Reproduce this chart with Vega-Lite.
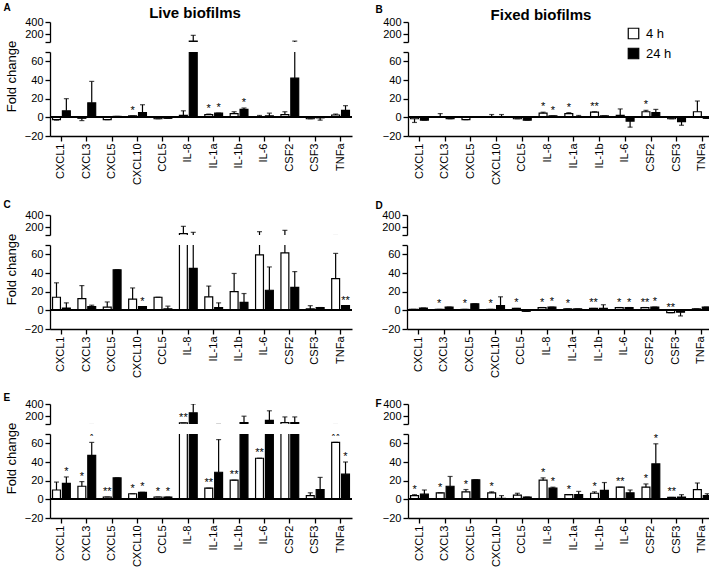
{
"$schema": "https://vega.github.io/schema/vega-lite/v6.json",
"padding": {"left": 3, "top": 2, "right": 0, "bottom": 0},
"datasets": {"d": [
{"p":"A","g":"CXCL1","t":"4 h","v":-2.5,"e":-3},
{"p":"A","g":"CXCL1","t":"24 h","v":7,"e":20},
{"p":"A","g":"CXCL3","t":"4 h","v":-1,"e":-3.5},
{"p":"A","g":"CXCL3","t":"24 h","v":15.5,"e":38.5},
{"p":"A","g":"CXCL5","t":"4 h","v":-2.5,"e":-2.5},
{"p":"A","g":"CXCL5","t":"24 h","v":1,"e":1},
{"p":"A","g":"CXCL10","t":"4 h","v":1.5,"e":1.5,"s":"*"},
{"p":"A","g":"CXCL10","t":"24 h","v":5,"e":13.5},
{"p":"A","g":"CCL5","t":"4 h","v":-1.5,"e":-1.5},
{"p":"A","g":"CCL5","t":"24 h","v":-1,"e":-1},
{"p":"A","g":"IL-8","t":"4 h","v":2,"e":7},
{"p":"A","g":"IL-8","t":"24 h","v":85,"e":180},
{"p":"A","g":"IL-1a","t":"4 h","v":3,"e":3.5,"s":"*"},
{"p":"A","g":"IL-1a","t":"24 h","v":4.5,"e":4.5,"s":"*"},
{"p":"A","g":"IL-1b","t":"4 h","v":4,"e":6},
{"p":"A","g":"IL-1b","t":"24 h","v":8.5,"e":10,"s":"*"},
{"p":"A","g":"IL-6","t":"4 h","v":0.5,"e":2},
{"p":"A","g":"IL-6","t":"24 h","v":1.5,"e":4.5},
{"p":"A","g":"CSF2","t":"4 h","v":3,"e":6},
{"p":"A","g":"CSF2","t":"24 h","v":42,"e":85},
{"p":"A","g":"CSF3","t":"4 h","v":-1.5,"e":-1.5},
{"p":"A","g":"CSF3","t":"24 h","v":-0.5,"e":-3},
{"p":"A","g":"TNFa","t":"4 h","v":2.5,"e":3.5},
{"p":"A","g":"TNFa","t":"24 h","v":7.5,"e":12.5},
{"p":"B","g":"CXCL1","t":"4 h","v":-1.5,"e":-5.5},
{"p":"B","g":"CXCL1","t":"24 h","v":-3,"e":-3},
{"p":"B","g":"CXCL3","t":"4 h","v":0.5,"e":4},
{"p":"B","g":"CXCL3","t":"24 h","v":-1.5,"e":-1.5},
{"p":"B","g":"CXCL5","t":"4 h","v":-2.5,"e":-2.5},
{"p":"B","g":"CXCL5","t":"24 h","v":0,"e":0},
{"p":"B","g":"CXCL10","t":"4 h","v":0.5,"e":3},
{"p":"B","g":"CXCL10","t":"24 h","v":0.5,"e":3},
{"p":"B","g":"CCL5","t":"4 h","v":-1.5,"e":-1.5},
{"p":"B","g":"CCL5","t":"24 h","v":-3,"e":-3},
{"p":"B","g":"IL-8","t":"4 h","v":4.5,"e":5.5,"s":"*"},
{"p":"B","g":"IL-8","t":"24 h","v":1.5,"e":1.5,"s":"*"},
{"p":"B","g":"IL-1a","t":"4 h","v":4,"e":5,"s":"*"},
{"p":"B","g":"IL-1a","t":"24 h","v":0.5,"e":2},
{"p":"B","g":"IL-1b","t":"4 h","v":5.5,"e":6,"s":"**"},
{"p":"B","g":"IL-1b","t":"24 h","v":1.5,"e":1.5},
{"p":"B","g":"IL-6","t":"4 h","v":2,"e":9},
{"p":"B","g":"IL-6","t":"24 h","v":-4,"e":-10.5},
{"p":"B","g":"CSF2","t":"4 h","v":6,"e":7.5,"s":"*"},
{"p":"B","g":"CSF2","t":"24 h","v":5,"e":8.5},
{"p":"B","g":"CSF3","t":"4 h","v":-1.5,"e":-1.5},
{"p":"B","g":"CSF3","t":"24 h","v":-4.5,"e":-8.5},
{"p":"B","g":"TNFa","t":"4 h","v":6,"e":17.5},
{"p":"B","g":"TNFa","t":"24 h","v":-1,"e":-1},
{"p":"C","g":"CXCL1","t":"4 h","v":14,"e":29.5},
{"p":"C","g":"CXCL1","t":"24 h","v":2.5,"e":8},
{"p":"C","g":"CXCL3","t":"4 h","v":12.5,"e":26.5},
{"p":"C","g":"CXCL3","t":"24 h","v":4,"e":5.5},
{"p":"C","g":"CXCL5","t":"4 h","v":3.5,"e":9},
{"p":"C","g":"CXCL5","t":"24 h","v":43.5,"e":43.5},
{"p":"C","g":"CXCL10","t":"4 h","v":12,"e":24},
{"p":"C","g":"CXCL10","t":"24 h","v":4,"e":4,"s":"*"},
{"p":"C","g":"CCL5","t":"4 h","v":14,"e":14},
{"p":"C","g":"CCL5","t":"24 h","v":1.5,"e":4.5},
{"p":"C","g":"IL-8","t":"4 h","v":92,"e":213},
{"p":"C","g":"IL-8","t":"24 h","v":45,"e":114},
{"p":"C","g":"IL-1a","t":"4 h","v":14.5,"e":26},
{"p":"C","g":"IL-1a","t":"24 h","v":3,"e":8},
{"p":"C","g":"IL-1b","t":"4 h","v":20,"e":39.5},
{"p":"C","g":"IL-1b","t":"24 h","v":8.5,"e":18},
{"p":"C","g":"IL-6","t":"4 h","v":59.5,"e":125},
{"p":"C","g":"IL-6","t":"24 h","v":21.5,"e":46.5},
{"p":"C","g":"CSF2","t":"4 h","v":61.5,"e":147},
{"p":"C","g":"CSF2","t":"24 h","v":24.5,"e":41.5},
{"p":"C","g":"CSF3","t":"4 h","v":1.5,"e":5},
{"p":"C","g":"CSF3","t":"24 h","v":3,"e":3},
{"p":"C","g":"TNFa","t":"4 h","v":34,"e":61},
{"p":"C","g":"TNFa","t":"24 h","v":5,"e":5,"s":"**"},
{"p":"D","g":"CXCL1","t":"4 h","v":1,"e":1},
{"p":"D","g":"CXCL1","t":"24 h","v":2.5,"e":2.5},
{"p":"D","g":"CXCL3","t":"4 h","v":1,"e":1,"s":"*"},
{"p":"D","g":"CXCL3","t":"24 h","v":3.5,"e":3.5},
{"p":"D","g":"CXCL5","t":"4 h","v":1,"e":1,"s":"*"},
{"p":"D","g":"CXCL5","t":"24 h","v":7,"e":7},
{"p":"D","g":"CXCL10","t":"4 h","v":1,"e":1,"s":"*"},
{"p":"D","g":"CXCL10","t":"24 h","v":5,"e":14.5},
{"p":"D","g":"CCL5","t":"4 h","v":2,"e":2,"s":"*"},
{"p":"D","g":"CCL5","t":"24 h","v":-1,"e":-1},
{"p":"D","g":"IL-8","t":"4 h","v":3,"e":3,"s":"*"},
{"p":"D","g":"IL-8","t":"24 h","v":3.5,"e":3.5,"s":"*"},
{"p":"D","g":"IL-1a","t":"4 h","v":1.5,"e":1.5,"s":"*"},
{"p":"D","g":"IL-1a","t":"24 h","v":1.5,"e":1.5},
{"p":"D","g":"IL-1b","t":"4 h","v":2,"e":2,"s":"**"},
{"p":"D","g":"IL-1b","t":"24 h","v":2,"e":6},
{"p":"D","g":"IL-6","t":"4 h","v":3,"e":3,"s":"*"},
{"p":"D","g":"IL-6","t":"24 h","v":3,"e":3,"s":"*"},
{"p":"D","g":"CSF2","t":"4 h","v":3,"e":3,"s":"**"},
{"p":"D","g":"CSF2","t":"24 h","v":3.5,"e":3.5,"s":"*"},
{"p":"D","g":"CSF3","t":"4 h","v":-2.5,"e":-2.5,"s":"**"},
{"p":"D","g":"CSF3","t":"24 h","v":-2,"e":-6},
{"p":"D","g":"TNFa","t":"4 h","v":1.5,"e":1.5},
{"p":"D","g":"TNFa","t":"24 h","v":3.5,"e":3.5},
{"p":"E","g":"CXCL1","t":"4 h","v":10,"e":18.5},
{"p":"E","g":"CXCL1","t":"24 h","v":17,"e":24,"s":"*"},
{"p":"E","g":"CXCL3","t":"4 h","v":14,"e":19,"s":"*"},
{"p":"E","g":"CXCL3","t":"24 h","v":47,"e":61,"s":"*"},
{"p":"E","g":"CXCL5","t":"4 h","v":2.5,"e":2.5,"s":"**"},
{"p":"E","g":"CXCL5","t":"24 h","v":23,"e":23},
{"p":"E","g":"CXCL10","t":"4 h","v":6,"e":6,"s":"*"},
{"p":"E","g":"CXCL10","t":"24 h","v":7.5,"e":7.5,"s":"*"},
{"p":"E","g":"CCL5","t":"4 h","v":2.5,"e":2.5,"s":"*"},
{"p":"E","g":"CCL5","t":"24 h","v":2.5,"e":2.5,"s":"*"},
{"p":"E","g":"IL-8","t":"4 h","v":87,"e":87,"s":"**"},
{"p":"E","g":"IL-8","t":"24 h","v":255,"e":400},
{"p":"E","g":"IL-1a","t":"4 h","v":12,"e":12,"s":"**"},
{"p":"E","g":"IL-1a","t":"24 h","v":29,"e":64},
{"p":"E","g":"IL-1b","t":"4 h","v":20.5,"e":20.5,"s":"**"},
{"p":"E","g":"IL-1b","t":"24 h","v":92,"e":199},
{"p":"E","g":"IL-6","t":"4 h","v":44,"e":44,"s":"**"},
{"p":"E","g":"IL-6","t":"24 h","v":131,"e":288},
{"p":"E","g":"CSF2","t":"4 h","v":92,"e":187},
{"p":"E","g":"CSF2","t":"24 h","v":92,"e":187},
{"p":"E","g":"CSF3","t":"4 h","v":4,"e":7},
{"p":"E","g":"CSF3","t":"24 h","v":10.5,"e":23.5},
{"p":"E","g":"TNFa","t":"4 h","v":61,"e":61,"s":"**"},
{"p":"E","g":"TNFa","t":"24 h","v":27,"e":40,"s":"*"},
{"p":"F","g":"CXCL1","t":"4 h","v":4,"e":5,"s":"*"},
{"p":"F","g":"CXCL1","t":"24 h","v":5.5,"e":10},
{"p":"F","g":"CXCL3","t":"4 h","v":7,"e":7,"s":"*"},
{"p":"F","g":"CXCL3","t":"24 h","v":14,"e":24.5},
{"p":"F","g":"CXCL5","t":"4 h","v":8,"e":10.5,"s":"*"},
{"p":"F","g":"CXCL5","t":"24 h","v":21,"e":21},
{"p":"F","g":"CXCL10","t":"4 h","v":7,"e":8,"s":"*"},
{"p":"F","g":"CXCL10","t":"24 h","v":1,"e":4},
{"p":"F","g":"CCL5","t":"4 h","v":4.5,"e":6.5},
{"p":"F","g":"CCL5","t":"24 h","v":2.5,"e":2.5},
{"p":"F","g":"IL-8","t":"4 h","v":20.5,"e":23,"s":"*"},
{"p":"F","g":"IL-8","t":"24 h","v":12,"e":13,"s":"*"},
{"p":"F","g":"IL-1a","t":"4 h","v":5,"e":5,"s":"*"},
{"p":"F","g":"IL-1a","t":"24 h","v":5,"e":8.5},
{"p":"F","g":"IL-1b","t":"4 h","v":6.5,"e":8,"s":"*"},
{"p":"F","g":"IL-1b","t":"24 h","v":9.5,"e":18},
{"p":"F","g":"IL-6","t":"4 h","v":13,"e":13,"s":"**"},
{"p":"F","g":"IL-6","t":"24 h","v":7,"e":10},
{"p":"F","g":"CSF2","t":"4 h","v":13,"e":16.5,"s":"*"},
{"p":"F","g":"CSF2","t":"24 h","v":38,"e":59.5,"s":"*"},
{"p":"F","g":"CSF3","t":"4 h","v":2,"e":2,"s":"**"},
{"p":"F","g":"CSF3","t":"24 h","v":2.5,"e":5},
{"p":"F","g":"TNFa","t":"4 h","v":10.5,"e":17.5},
{"p":"F","g":"TNFa","t":"24 h","v":4,"e":6}
]},
"data": {"name": "d"},
"spacing": 14,
"vconcat": [
{"spacing": 22, "hconcat": [
 {"spacing": 10, "bounds": "flush", "vconcat": [
  {"width": 302, "height": 20,
   "title": {"text": "Live biofilms", "fontSize": 15, "fontWeight": "bold", "anchor": "middle", "frame": "group", "dx": -6, "offset": -19},
   "transform": [{"filter": "datum.p=='A'"}],
   "layer": [
    {"mark": {"type": "bar", "clip": true}, "encoding": {
      "x": {"field": "g", "type": "nominal", "sort": null, "title": null, "scale": {"paddingInner": 0.3, "paddingOuter": 0.1}, "axis": null},
      "xOffset": {"field": "t", "type": "nominal", "sort": null, "scale": {"paddingInner": 0.2}},
      "y": {"field": "v", "type": "quantitative", "scale": {"domain": [70, 400], "nice": false, "zero": false}, "axis": {"values": [70, 200, 400], "tickCount": 10, "labelFlush": false, "labelOverlap": false, "labelExpr": "datum.value==70?'':datum.label", "title": "A", "titleAngle": 0, "titleX": -47, "titleY": -12, "titleFontWeight": "bold", "titleFontSize": 10, "titleAlign": "left", "titleBaseline": "alphabetic"}},
      "fill": {"field": "t", "type": "nominal", "title": null, "scale": {"domain": ["4 h", "24 h"], "range": ["white", "black"]}}}},
    {"mark": {"type": "rule", "clip": true}, "encoding": {
      "x": {"field": "g", "type": "nominal", "sort": null, "title": null, "scale": {"paddingInner": 0.3, "paddingOuter": 0.1}, "axis": null},
      "xOffset": {"field": "t", "type": "nominal", "sort": null, "scale": {"paddingInner": 0.2}},
      "y": {"field": "v", "type": "quantitative", "scale": {"domain": [70, 400], "nice": false, "zero": false}}, "y2": {"field": "e"}}},
    {"mark": {"type": "tick", "clip": true}, "encoding": {
      "x": {"field": "g", "type": "nominal", "sort": null, "title": null, "scale": {"paddingInner": 0.3, "paddingOuter": 0.1}, "axis": null},
      "xOffset": {"field": "t", "type": "nominal", "sort": null, "scale": {"paddingInner": 0.2}},
      "y": {"field": "e", "type": "quantitative", "scale": {"domain": [70, 400], "nice": false, "zero": false}}}},
    {"transform": [{"filter": "datum.s && datum.e > 70"}], "mark": {"type": "text", "clip": true}, "encoding": {
      "x": {"field": "g", "type": "nominal", "sort": null, "title": null, "scale": {"paddingInner": 0.3, "paddingOuter": 0.1}, "axis": null},
      "xOffset": {"field": "t", "type": "nominal", "sort": null, "scale": {"paddingInner": 0.2}},
      "y": {"field": "e", "type": "quantitative", "scale": {"domain": [70, 400], "nice": false, "zero": false}}, "text": {"field": "s"}}}
   ]},
  {"width": 302, "height": 84,
   "transform": [{"filter": "datum.p=='A'"}],
   "layer": [
    {"mark": {"type": "bar", "clip": true}, "encoding": {
      "x": {"field": "g", "type": "nominal", "sort": null, "title": null, "scale": {"paddingInner": 0.3, "paddingOuter": 0.1}, "axis": {"labelAngle": -90}},
      "xOffset": {"field": "t", "type": "nominal", "sort": null, "scale": {"paddingInner": 0.2}},
      "y": {"field": "v", "type": "quantitative", "scale": {"domain": [-20, 70], "nice": false, "zero": false}, "axis": {"values": [-20, 0, 20, 40, 60, 70], "tickCount": 10, "labelFlush": false, "labelOverlap": false, "labelExpr": "datum.value==70?'':datum.label", "title": "Fold change", "titleFontSize": 13, "titleY": 24, "titlePadding": 6}},
      "fill": {"field": "t", "type": "nominal", "title": null, "scale": {"domain": ["4 h", "24 h"], "range": ["white", "black"]}}}},
    {"mark": {"type": "rule", "strokeWidth": 1.3}, "encoding": {"y": {"datum": 0, "type": "quantitative", "scale": {"domain": [-20, 70], "nice": false, "zero": false}}}},
    {"mark": {"type": "rule", "clip": true}, "encoding": {
      "x": {"field": "g", "type": "nominal", "sort": null, "title": null, "scale": {"paddingInner": 0.3, "paddingOuter": 0.1}, "axis": {"labelAngle": -90}},
      "xOffset": {"field": "t", "type": "nominal", "sort": null, "scale": {"paddingInner": 0.2}},
      "y": {"field": "v", "type": "quantitative", "scale": {"domain": [-20, 70], "nice": false, "zero": false}}, "y2": {"field": "e"}}},
    {"mark": {"type": "tick", "clip": true}, "encoding": {
      "x": {"field": "g", "type": "nominal", "sort": null, "title": null, "scale": {"paddingInner": 0.3, "paddingOuter": 0.1}, "axis": {"labelAngle": -90}},
      "xOffset": {"field": "t", "type": "nominal", "sort": null, "scale": {"paddingInner": 0.2}},
      "y": {"field": "e", "type": "quantitative", "scale": {"domain": [-20, 70], "nice": false, "zero": false}}}},
    {"transform": [{"filter": "datum.s && datum.e <= 70"}], "mark": {"type": "text", "clip": true}, "encoding": {
      "x": {"field": "g", "type": "nominal", "sort": null, "title": null, "scale": {"paddingInner": 0.3, "paddingOuter": 0.1}, "axis": {"labelAngle": -90}},
      "xOffset": {"field": "t", "type": "nominal", "sort": null, "scale": {"paddingInner": 0.2}},
      "y": {"field": "e", "type": "quantitative", "scale": {"domain": [-20, 70], "nice": false, "zero": false}}, "text": {"field": "s"}}}
   ]}
 ]},
 {"spacing": 10, "bounds": "flush", "vconcat": [
  {"width": 306, "height": 20,
   "title": {"text": "Fixed biofilms", "fontSize": 15, "fontWeight": "bold", "anchor": "middle", "frame": "group", "dx": -20, "offset": -19},
   "transform": [{"filter": "datum.p=='B'"}],
   "layer": [
    {"mark": {"type": "bar", "clip": true}, "encoding": {
      "x": {"field": "g", "type": "nominal", "sort": null, "title": null, "scale": {"paddingInner": 0.3, "paddingOuter": 0.1}, "axis": null},
      "xOffset": {"field": "t", "type": "nominal", "sort": null, "scale": {"paddingInner": 0.2}},
      "y": {"field": "v", "type": "quantitative", "scale": {"domain": [70, 400], "nice": false, "zero": false}, "axis": {"values": [70, 200, 400], "tickCount": 10, "labelFlush": false, "labelOverlap": false, "labelExpr": "datum.value==70?'':datum.label", "title": "B", "titleAngle": 0, "titleX": -33, "titleY": -10, "titleFontWeight": "bold", "titleFontSize": 10, "titleAlign": "left", "titleBaseline": "alphabetic"}},
      "fill": {"field": "t", "type": "nominal", "title": null, "scale": {"domain": ["4 h", "24 h"], "range": ["white", "black"]}}}},
    {"mark": {"type": "rule", "clip": true}, "encoding": {
      "x": {"field": "g", "type": "nominal", "sort": null, "title": null, "scale": {"paddingInner": 0.3, "paddingOuter": 0.1}, "axis": null},
      "xOffset": {"field": "t", "type": "nominal", "sort": null, "scale": {"paddingInner": 0.2}},
      "y": {"field": "v", "type": "quantitative", "scale": {"domain": [70, 400], "nice": false, "zero": false}}, "y2": {"field": "e"}}},
    {"mark": {"type": "tick", "clip": true}, "encoding": {
      "x": {"field": "g", "type": "nominal", "sort": null, "title": null, "scale": {"paddingInner": 0.3, "paddingOuter": 0.1}, "axis": null},
      "xOffset": {"field": "t", "type": "nominal", "sort": null, "scale": {"paddingInner": 0.2}},
      "y": {"field": "e", "type": "quantitative", "scale": {"domain": [70, 400], "nice": false, "zero": false}}}},
    {"transform": [{"filter": "datum.s && datum.e > 70"}], "mark": {"type": "text", "clip": true}, "encoding": {
      "x": {"field": "g", "type": "nominal", "sort": null, "title": null, "scale": {"paddingInner": 0.3, "paddingOuter": 0.1}, "axis": null},
      "xOffset": {"field": "t", "type": "nominal", "sort": null, "scale": {"paddingInner": 0.2}},
      "y": {"field": "e", "type": "quantitative", "scale": {"domain": [70, 400], "nice": false, "zero": false}}, "text": {"field": "s"}}}
   ]},
  {"width": 306, "height": 84,
   "transform": [{"filter": "datum.p=='B'"}],
   "layer": [
    {"mark": {"type": "bar", "clip": true}, "encoding": {
      "x": {"field": "g", "type": "nominal", "sort": null, "title": null, "scale": {"paddingInner": 0.3, "paddingOuter": 0.1}, "axis": {"labelAngle": -90}},
      "xOffset": {"field": "t", "type": "nominal", "sort": null, "scale": {"paddingInner": 0.2}},
      "y": {"field": "v", "type": "quantitative", "scale": {"domain": [-20, 70], "nice": false, "zero": false}, "axis": {"values": [-20, 0, 20, 40, 60, 70], "tickCount": 10, "labelFlush": false, "labelOverlap": false, "labelExpr": "datum.value==70?'':datum.label", "title": null}},
      "fill": {"field": "t", "type": "nominal", "title": null, "scale": {"domain": ["4 h", "24 h"], "range": ["white", "black"]}}}},
    {"mark": {"type": "rule", "strokeWidth": 1.3}, "encoding": {"y": {"datum": 0, "type": "quantitative", "scale": {"domain": [-20, 70], "nice": false, "zero": false}}}},
    {"mark": {"type": "rule", "clip": true}, "encoding": {
      "x": {"field": "g", "type": "nominal", "sort": null, "title": null, "scale": {"paddingInner": 0.3, "paddingOuter": 0.1}, "axis": {"labelAngle": -90}},
      "xOffset": {"field": "t", "type": "nominal", "sort": null, "scale": {"paddingInner": 0.2}},
      "y": {"field": "v", "type": "quantitative", "scale": {"domain": [-20, 70], "nice": false, "zero": false}}, "y2": {"field": "e"}}},
    {"mark": {"type": "tick", "clip": true}, "encoding": {
      "x": {"field": "g", "type": "nominal", "sort": null, "title": null, "scale": {"paddingInner": 0.3, "paddingOuter": 0.1}, "axis": {"labelAngle": -90}},
      "xOffset": {"field": "t", "type": "nominal", "sort": null, "scale": {"paddingInner": 0.2}},
      "y": {"field": "e", "type": "quantitative", "scale": {"domain": [-20, 70], "nice": false, "zero": false}}}},
    {"transform": [{"filter": "datum.s && datum.e <= 70"}], "mark": {"type": "text", "clip": true}, "encoding": {
      "x": {"field": "g", "type": "nominal", "sort": null, "title": null, "scale": {"paddingInner": 0.3, "paddingOuter": 0.1}, "axis": {"labelAngle": -90}},
      "xOffset": {"field": "t", "type": "nominal", "sort": null, "scale": {"paddingInner": 0.2}},
      "y": {"field": "e", "type": "quantitative", "scale": {"domain": [-20, 70], "nice": false, "zero": false}}, "text": {"field": "s"}}}
   ]}
 ]}
]},
{"spacing": 22, "hconcat": [
 {"spacing": 10, "bounds": "flush", "vconcat": [
  {"width": 302, "height": 20,
   "transform": [{"filter": "datum.p=='C'"}],
   "layer": [
    {"mark": {"type": "bar", "clip": true}, "encoding": {
      "x": {"field": "g", "type": "nominal", "sort": null, "title": null, "scale": {"paddingInner": 0.3, "paddingOuter": 0.1}, "axis": null},
      "xOffset": {"field": "t", "type": "nominal", "sort": null, "scale": {"paddingInner": 0.2}},
      "y": {"field": "v", "type": "quantitative", "scale": {"domain": [70, 400], "nice": false, "zero": false}, "axis": {"values": [70, 200, 400], "tickCount": 10, "labelFlush": false, "labelOverlap": false, "labelExpr": "datum.value==70?'':datum.label", "title": "C", "titleAngle": 0, "titleX": -47, "titleY": -8, "titleFontWeight": "bold", "titleFontSize": 10, "titleAlign": "left", "titleBaseline": "alphabetic"}},
      "fill": {"field": "t", "type": "nominal", "title": null, "scale": {"domain": ["4 h", "24 h"], "range": ["white", "black"]}}}},
    {"mark": {"type": "rule", "clip": true}, "encoding": {
      "x": {"field": "g", "type": "nominal", "sort": null, "title": null, "scale": {"paddingInner": 0.3, "paddingOuter": 0.1}, "axis": null},
      "xOffset": {"field": "t", "type": "nominal", "sort": null, "scale": {"paddingInner": 0.2}},
      "y": {"field": "v", "type": "quantitative", "scale": {"domain": [70, 400], "nice": false, "zero": false}}, "y2": {"field": "e"}}},
    {"mark": {"type": "tick", "clip": true}, "encoding": {
      "x": {"field": "g", "type": "nominal", "sort": null, "title": null, "scale": {"paddingInner": 0.3, "paddingOuter": 0.1}, "axis": null},
      "xOffset": {"field": "t", "type": "nominal", "sort": null, "scale": {"paddingInner": 0.2}},
      "y": {"field": "e", "type": "quantitative", "scale": {"domain": [70, 400], "nice": false, "zero": false}}}},
    {"transform": [{"filter": "datum.s && datum.e > 70"}], "mark": {"type": "text", "clip": true}, "encoding": {
      "x": {"field": "g", "type": "nominal", "sort": null, "title": null, "scale": {"paddingInner": 0.3, "paddingOuter": 0.1}, "axis": null},
      "xOffset": {"field": "t", "type": "nominal", "sort": null, "scale": {"paddingInner": 0.2}},
      "y": {"field": "e", "type": "quantitative", "scale": {"domain": [70, 400], "nice": false, "zero": false}}, "text": {"field": "s"}}}
   ]},
  {"width": 302, "height": 84,
   "transform": [{"filter": "datum.p=='C'"}],
   "layer": [
    {"mark": {"type": "bar", "clip": true}, "encoding": {
      "x": {"field": "g", "type": "nominal", "sort": null, "title": null, "scale": {"paddingInner": 0.3, "paddingOuter": 0.1}, "axis": {"labelAngle": -90}},
      "xOffset": {"field": "t", "type": "nominal", "sort": null, "scale": {"paddingInner": 0.2}},
      "y": {"field": "v", "type": "quantitative", "scale": {"domain": [-20, 70], "nice": false, "zero": false}, "axis": {"values": [-20, 0, 20, 40, 60, 70], "tickCount": 10, "labelFlush": false, "labelOverlap": false, "labelExpr": "datum.value==70?'':datum.label", "title": "Fold change", "titleFontSize": 13, "titleY": 24, "titlePadding": 6}},
      "fill": {"field": "t", "type": "nominal", "title": null, "scale": {"domain": ["4 h", "24 h"], "range": ["white", "black"]}}}},
    {"mark": {"type": "rule", "strokeWidth": 1.3}, "encoding": {"y": {"datum": 0, "type": "quantitative", "scale": {"domain": [-20, 70], "nice": false, "zero": false}}}},
    {"mark": {"type": "rule", "clip": true}, "encoding": {
      "x": {"field": "g", "type": "nominal", "sort": null, "title": null, "scale": {"paddingInner": 0.3, "paddingOuter": 0.1}, "axis": {"labelAngle": -90}},
      "xOffset": {"field": "t", "type": "nominal", "sort": null, "scale": {"paddingInner": 0.2}},
      "y": {"field": "v", "type": "quantitative", "scale": {"domain": [-20, 70], "nice": false, "zero": false}}, "y2": {"field": "e"}}},
    {"mark": {"type": "tick", "clip": true}, "encoding": {
      "x": {"field": "g", "type": "nominal", "sort": null, "title": null, "scale": {"paddingInner": 0.3, "paddingOuter": 0.1}, "axis": {"labelAngle": -90}},
      "xOffset": {"field": "t", "type": "nominal", "sort": null, "scale": {"paddingInner": 0.2}},
      "y": {"field": "e", "type": "quantitative", "scale": {"domain": [-20, 70], "nice": false, "zero": false}}}},
    {"transform": [{"filter": "datum.s && datum.e <= 70"}], "mark": {"type": "text", "clip": true}, "encoding": {
      "x": {"field": "g", "type": "nominal", "sort": null, "title": null, "scale": {"paddingInner": 0.3, "paddingOuter": 0.1}, "axis": {"labelAngle": -90}},
      "xOffset": {"field": "t", "type": "nominal", "sort": null, "scale": {"paddingInner": 0.2}},
      "y": {"field": "e", "type": "quantitative", "scale": {"domain": [-20, 70], "nice": false, "zero": false}}, "text": {"field": "s"}}}
   ]}
 ]},
 {"spacing": 10, "bounds": "flush", "vconcat": [
  {"width": 306, "height": 20,
   "transform": [{"filter": "datum.p=='D'"}],
   "layer": [
    {"mark": {"type": "bar", "clip": true}, "encoding": {
      "x": {"field": "g", "type": "nominal", "sort": null, "title": null, "scale": {"paddingInner": 0.3, "paddingOuter": 0.1}, "axis": null},
      "xOffset": {"field": "t", "type": "nominal", "sort": null, "scale": {"paddingInner": 0.2}},
      "y": {"field": "v", "type": "quantitative", "scale": {"domain": [70, 400], "nice": false, "zero": false}, "axis": {"values": [70, 200, 400], "tickCount": 10, "labelFlush": false, "labelOverlap": false, "labelExpr": "datum.value==70?'':datum.label", "title": "D", "titleAngle": 0, "titleX": -32, "titleY": -7, "titleFontWeight": "bold", "titleFontSize": 10, "titleAlign": "left", "titleBaseline": "alphabetic"}},
      "fill": {"field": "t", "type": "nominal", "title": null, "scale": {"domain": ["4 h", "24 h"], "range": ["white", "black"]}}}},
    {"mark": {"type": "rule", "clip": true}, "encoding": {
      "x": {"field": "g", "type": "nominal", "sort": null, "title": null, "scale": {"paddingInner": 0.3, "paddingOuter": 0.1}, "axis": null},
      "xOffset": {"field": "t", "type": "nominal", "sort": null, "scale": {"paddingInner": 0.2}},
      "y": {"field": "v", "type": "quantitative", "scale": {"domain": [70, 400], "nice": false, "zero": false}}, "y2": {"field": "e"}}},
    {"mark": {"type": "tick", "clip": true}, "encoding": {
      "x": {"field": "g", "type": "nominal", "sort": null, "title": null, "scale": {"paddingInner": 0.3, "paddingOuter": 0.1}, "axis": null},
      "xOffset": {"field": "t", "type": "nominal", "sort": null, "scale": {"paddingInner": 0.2}},
      "y": {"field": "e", "type": "quantitative", "scale": {"domain": [70, 400], "nice": false, "zero": false}}}},
    {"transform": [{"filter": "datum.s && datum.e > 70"}], "mark": {"type": "text", "clip": true}, "encoding": {
      "x": {"field": "g", "type": "nominal", "sort": null, "title": null, "scale": {"paddingInner": 0.3, "paddingOuter": 0.1}, "axis": null},
      "xOffset": {"field": "t", "type": "nominal", "sort": null, "scale": {"paddingInner": 0.2}},
      "y": {"field": "e", "type": "quantitative", "scale": {"domain": [70, 400], "nice": false, "zero": false}}, "text": {"field": "s"}}}
   ]},
  {"width": 306, "height": 84,
   "transform": [{"filter": "datum.p=='D'"}],
   "layer": [
    {"mark": {"type": "bar", "clip": true}, "encoding": {
      "x": {"field": "g", "type": "nominal", "sort": null, "title": null, "scale": {"paddingInner": 0.3, "paddingOuter": 0.1}, "axis": {"labelAngle": -90}},
      "xOffset": {"field": "t", "type": "nominal", "sort": null, "scale": {"paddingInner": 0.2}},
      "y": {"field": "v", "type": "quantitative", "scale": {"domain": [-20, 70], "nice": false, "zero": false}, "axis": {"values": [-20, 0, 20, 40, 60, 70], "tickCount": 10, "labelFlush": false, "labelOverlap": false, "labelExpr": "datum.value==70?'':datum.label", "title": null}},
      "fill": {"field": "t", "type": "nominal", "title": null, "scale": {"domain": ["4 h", "24 h"], "range": ["white", "black"]}}}},
    {"mark": {"type": "rule", "strokeWidth": 1.3}, "encoding": {"y": {"datum": 0, "type": "quantitative", "scale": {"domain": [-20, 70], "nice": false, "zero": false}}}},
    {"mark": {"type": "rule", "clip": true}, "encoding": {
      "x": {"field": "g", "type": "nominal", "sort": null, "title": null, "scale": {"paddingInner": 0.3, "paddingOuter": 0.1}, "axis": {"labelAngle": -90}},
      "xOffset": {"field": "t", "type": "nominal", "sort": null, "scale": {"paddingInner": 0.2}},
      "y": {"field": "v", "type": "quantitative", "scale": {"domain": [-20, 70], "nice": false, "zero": false}}, "y2": {"field": "e"}}},
    {"mark": {"type": "tick", "clip": true}, "encoding": {
      "x": {"field": "g", "type": "nominal", "sort": null, "title": null, "scale": {"paddingInner": 0.3, "paddingOuter": 0.1}, "axis": {"labelAngle": -90}},
      "xOffset": {"field": "t", "type": "nominal", "sort": null, "scale": {"paddingInner": 0.2}},
      "y": {"field": "e", "type": "quantitative", "scale": {"domain": [-20, 70], "nice": false, "zero": false}}}},
    {"transform": [{"filter": "datum.s && datum.e <= 70"}], "mark": {"type": "text", "clip": true}, "encoding": {
      "x": {"field": "g", "type": "nominal", "sort": null, "title": null, "scale": {"paddingInner": 0.3, "paddingOuter": 0.1}, "axis": {"labelAngle": -90}},
      "xOffset": {"field": "t", "type": "nominal", "sort": null, "scale": {"paddingInner": 0.2}},
      "y": {"field": "e", "type": "quantitative", "scale": {"domain": [-20, 70], "nice": false, "zero": false}}, "text": {"field": "s"}}}
   ]}
 ]}
]},
{"spacing": 22, "hconcat": [
 {"spacing": 10, "bounds": "flush", "vconcat": [
  {"width": 302, "height": 20,
   "transform": [{"filter": "datum.p=='E'"}],
   "layer": [
    {"mark": {"type": "bar", "clip": true}, "encoding": {
      "x": {"field": "g", "type": "nominal", "sort": null, "title": null, "scale": {"paddingInner": 0.3, "paddingOuter": 0.1}, "axis": null},
      "xOffset": {"field": "t", "type": "nominal", "sort": null, "scale": {"paddingInner": 0.2}},
      "y": {"field": "v", "type": "quantitative", "scale": {"domain": [70, 400], "nice": false, "zero": false}, "axis": {"values": [70, 200, 400], "tickCount": 10, "labelFlush": false, "labelOverlap": false, "labelExpr": "datum.value==70?'':datum.label", "title": "E", "titleAngle": 0, "titleX": -47, "titleY": -4, "titleFontWeight": "bold", "titleFontSize": 10, "titleAlign": "left", "titleBaseline": "alphabetic"}},
      "fill": {"field": "t", "type": "nominal", "title": null, "scale": {"domain": ["4 h", "24 h"], "range": ["white", "black"]}}}},
    {"mark": {"type": "rule", "clip": true}, "encoding": {
      "x": {"field": "g", "type": "nominal", "sort": null, "title": null, "scale": {"paddingInner": 0.3, "paddingOuter": 0.1}, "axis": null},
      "xOffset": {"field": "t", "type": "nominal", "sort": null, "scale": {"paddingInner": 0.2}},
      "y": {"field": "v", "type": "quantitative", "scale": {"domain": [70, 400], "nice": false, "zero": false}}, "y2": {"field": "e"}}},
    {"mark": {"type": "tick", "clip": true}, "encoding": {
      "x": {"field": "g", "type": "nominal", "sort": null, "title": null, "scale": {"paddingInner": 0.3, "paddingOuter": 0.1}, "axis": null},
      "xOffset": {"field": "t", "type": "nominal", "sort": null, "scale": {"paddingInner": 0.2}},
      "y": {"field": "e", "type": "quantitative", "scale": {"domain": [70, 400], "nice": false, "zero": false}}}},
    {"transform": [{"filter": "datum.s && datum.e > 70"}], "mark": {"type": "text", "clip": true}, "encoding": {
      "x": {"field": "g", "type": "nominal", "sort": null, "title": null, "scale": {"paddingInner": 0.3, "paddingOuter": 0.1}, "axis": null},
      "xOffset": {"field": "t", "type": "nominal", "sort": null, "scale": {"paddingInner": 0.2}},
      "y": {"field": "e", "type": "quantitative", "scale": {"domain": [70, 400], "nice": false, "zero": false}}, "text": {"field": "s"}}}
   ]},
  {"width": 302, "height": 84,
   "transform": [{"filter": "datum.p=='E'"}],
   "layer": [
    {"mark": {"type": "bar", "clip": true}, "encoding": {
      "x": {"field": "g", "type": "nominal", "sort": null, "title": null, "scale": {"paddingInner": 0.3, "paddingOuter": 0.1}, "axis": {"labelAngle": -90}},
      "xOffset": {"field": "t", "type": "nominal", "sort": null, "scale": {"paddingInner": 0.2}},
      "y": {"field": "v", "type": "quantitative", "scale": {"domain": [-20, 70], "nice": false, "zero": false}, "axis": {"values": [-20, 0, 20, 40, 60, 70], "tickCount": 10, "labelFlush": false, "labelOverlap": false, "labelExpr": "datum.value==70?'':datum.label", "title": "Fold change", "titleFontSize": 13, "titleY": 24, "titlePadding": 6}},
      "fill": {"field": "t", "type": "nominal", "title": null, "scale": {"domain": ["4 h", "24 h"], "range": ["white", "black"]}}}},
    {"mark": {"type": "rule", "strokeWidth": 1.3}, "encoding": {"y": {"datum": 0, "type": "quantitative", "scale": {"domain": [-20, 70], "nice": false, "zero": false}}}},
    {"mark": {"type": "rule", "clip": true}, "encoding": {
      "x": {"field": "g", "type": "nominal", "sort": null, "title": null, "scale": {"paddingInner": 0.3, "paddingOuter": 0.1}, "axis": {"labelAngle": -90}},
      "xOffset": {"field": "t", "type": "nominal", "sort": null, "scale": {"paddingInner": 0.2}},
      "y": {"field": "v", "type": "quantitative", "scale": {"domain": [-20, 70], "nice": false, "zero": false}}, "y2": {"field": "e"}}},
    {"mark": {"type": "tick", "clip": true}, "encoding": {
      "x": {"field": "g", "type": "nominal", "sort": null, "title": null, "scale": {"paddingInner": 0.3, "paddingOuter": 0.1}, "axis": {"labelAngle": -90}},
      "xOffset": {"field": "t", "type": "nominal", "sort": null, "scale": {"paddingInner": 0.2}},
      "y": {"field": "e", "type": "quantitative", "scale": {"domain": [-20, 70], "nice": false, "zero": false}}}},
    {"transform": [{"filter": "datum.s && datum.e <= 70"}], "mark": {"type": "text", "clip": true}, "encoding": {
      "x": {"field": "g", "type": "nominal", "sort": null, "title": null, "scale": {"paddingInner": 0.3, "paddingOuter": 0.1}, "axis": {"labelAngle": -90}},
      "xOffset": {"field": "t", "type": "nominal", "sort": null, "scale": {"paddingInner": 0.2}},
      "y": {"field": "e", "type": "quantitative", "scale": {"domain": [-20, 70], "nice": false, "zero": false}}, "text": {"field": "s"}}}
   ]}
 ]},
 {"spacing": 10, "bounds": "flush", "vconcat": [
  {"width": 306, "height": 20,
   "transform": [{"filter": "datum.p=='F'"}],
   "layer": [
    {"mark": {"type": "bar", "clip": true}, "encoding": {
      "x": {"field": "g", "type": "nominal", "sort": null, "title": null, "scale": {"paddingInner": 0.3, "paddingOuter": 0.1}, "axis": null},
      "xOffset": {"field": "t", "type": "nominal", "sort": null, "scale": {"paddingInner": 0.2}},
      "y": {"field": "v", "type": "quantitative", "scale": {"domain": [70, 400], "nice": false, "zero": false}, "axis": {"values": [70, 200, 400], "tickCount": 10, "labelFlush": false, "labelOverlap": false, "labelExpr": "datum.value==70?'':datum.label", "title": "F", "titleAngle": 0, "titleX": -33, "titleY": 2, "titleFontWeight": "bold", "titleFontSize": 10, "titleAlign": "left", "titleBaseline": "alphabetic"}},
      "fill": {"field": "t", "type": "nominal", "title": null, "scale": {"domain": ["4 h", "24 h"], "range": ["white", "black"]}}}},
    {"mark": {"type": "rule", "clip": true}, "encoding": {
      "x": {"field": "g", "type": "nominal", "sort": null, "title": null, "scale": {"paddingInner": 0.3, "paddingOuter": 0.1}, "axis": null},
      "xOffset": {"field": "t", "type": "nominal", "sort": null, "scale": {"paddingInner": 0.2}},
      "y": {"field": "v", "type": "quantitative", "scale": {"domain": [70, 400], "nice": false, "zero": false}}, "y2": {"field": "e"}}},
    {"mark": {"type": "tick", "clip": true}, "encoding": {
      "x": {"field": "g", "type": "nominal", "sort": null, "title": null, "scale": {"paddingInner": 0.3, "paddingOuter": 0.1}, "axis": null},
      "xOffset": {"field": "t", "type": "nominal", "sort": null, "scale": {"paddingInner": 0.2}},
      "y": {"field": "e", "type": "quantitative", "scale": {"domain": [70, 400], "nice": false, "zero": false}}}},
    {"transform": [{"filter": "datum.s && datum.e > 70"}], "mark": {"type": "text", "clip": true}, "encoding": {
      "x": {"field": "g", "type": "nominal", "sort": null, "title": null, "scale": {"paddingInner": 0.3, "paddingOuter": 0.1}, "axis": null},
      "xOffset": {"field": "t", "type": "nominal", "sort": null, "scale": {"paddingInner": 0.2}},
      "y": {"field": "e", "type": "quantitative", "scale": {"domain": [70, 400], "nice": false, "zero": false}}, "text": {"field": "s"}}}
   ]},
  {"width": 306, "height": 84,
   "transform": [{"filter": "datum.p=='F'"}],
   "layer": [
    {"mark": {"type": "bar", "clip": true}, "encoding": {
      "x": {"field": "g", "type": "nominal", "sort": null, "title": null, "scale": {"paddingInner": 0.3, "paddingOuter": 0.1}, "axis": {"labelAngle": -90}},
      "xOffset": {"field": "t", "type": "nominal", "sort": null, "scale": {"paddingInner": 0.2}},
      "y": {"field": "v", "type": "quantitative", "scale": {"domain": [-20, 70], "nice": false, "zero": false}, "axis": {"values": [-20, 0, 20, 40, 60, 70], "tickCount": 10, "labelFlush": false, "labelOverlap": false, "labelExpr": "datum.value==70?'':datum.label", "title": null}},
      "fill": {"field": "t", "type": "nominal", "title": null, "scale": {"domain": ["4 h", "24 h"], "range": ["white", "black"]}}}},
    {"mark": {"type": "rule", "strokeWidth": 1.3}, "encoding": {"y": {"datum": 0, "type": "quantitative", "scale": {"domain": [-20, 70], "nice": false, "zero": false}}}},
    {"mark": {"type": "rule", "clip": true}, "encoding": {
      "x": {"field": "g", "type": "nominal", "sort": null, "title": null, "scale": {"paddingInner": 0.3, "paddingOuter": 0.1}, "axis": {"labelAngle": -90}},
      "xOffset": {"field": "t", "type": "nominal", "sort": null, "scale": {"paddingInner": 0.2}},
      "y": {"field": "v", "type": "quantitative", "scale": {"domain": [-20, 70], "nice": false, "zero": false}}, "y2": {"field": "e"}}},
    {"mark": {"type": "tick", "clip": true}, "encoding": {
      "x": {"field": "g", "type": "nominal", "sort": null, "title": null, "scale": {"paddingInner": 0.3, "paddingOuter": 0.1}, "axis": {"labelAngle": -90}},
      "xOffset": {"field": "t", "type": "nominal", "sort": null, "scale": {"paddingInner": 0.2}},
      "y": {"field": "e", "type": "quantitative", "scale": {"domain": [-20, 70], "nice": false, "zero": false}}}},
    {"transform": [{"filter": "datum.s && datum.e <= 70"}], "mark": {"type": "text", "clip": true}, "encoding": {
      "x": {"field": "g", "type": "nominal", "sort": null, "title": null, "scale": {"paddingInner": 0.3, "paddingOuter": 0.1}, "axis": {"labelAngle": -90}},
      "xOffset": {"field": "t", "type": "nominal", "sort": null, "scale": {"paddingInner": 0.2}},
      "y": {"field": "e", "type": "quantitative", "scale": {"domain": [-20, 70], "nice": false, "zero": false}}, "text": {"field": "s"}}}
   ]}
 ]}
]}
],
"config": {
 "font": "Liberation Sans",
 "view": {"stroke": null},
 "axis": {"grid": false, "labelOverlap": false, "domainColor": "black", "tickColor": "black", "labelColor": "black", "titleColor": "black", "labelFontSize": 11, "titleFontSize": 13, "titleFontWeight": "normal", "domainWidth": 1.3, "tickWidth": 1.3, "tickSize": 5, "labelPadding": 2},
 "bar": {"stroke": "black", "strokeWidth": 1.2},
 "rule": {"color": "black", "strokeWidth": 1.2},
 "tick": {"color": "black", "thickness": 1.2, "size": 5},
 "text": {"fontSize": 11, "baseline": "bottom", "color": "black"},
 "legend": {"orient": "none", "legendX": 577, "legendY": 5, "symbolType": "square", "symbolSize": 110, "symbolStrokeColor": "black", "symbolStrokeWidth": 1.3, "labelFontSize": 13, "labelColor": "black", "rowPadding": 3, "labelOffset": 6}
}
}
